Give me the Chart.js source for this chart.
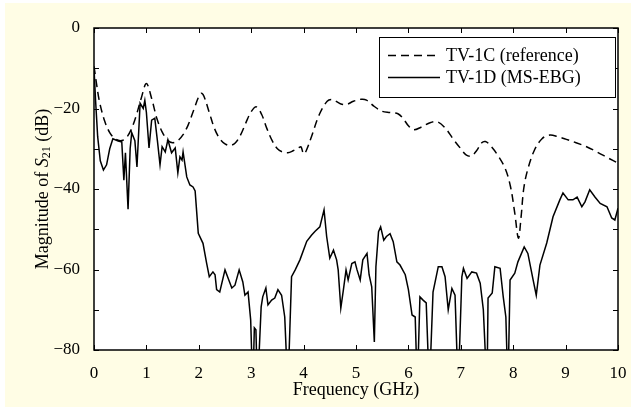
<!DOCTYPE html>
<html>
<head>
<meta charset="utf-8">
<script src="https://cdn.jsdelivr.net/npm/chart.js@4/dist/chart.umd.min.js"></script>
<style>
html,body{margin:0;padding:0;background:#fff;}
#wrap{width:635px;height:418px;}
</style>
</head>
<body>
<div id="wrap"><canvas id="c" width="635" height="418"></canvas></div>
<script>
// ---- data ----
const seriesNames = ['TV-1C (reference)', 'TV-1D (MS-EBG)'];
const xTickLabels = ['0','1','2','3','4','5','6','7','8','9','10'];
const yTickValues = [-80, -60, -40, -20, 0];
const yTickLabels = ['\u221280', '\u221260', '\u221240', '\u221220', '0'];

const refFreq = [0,0.05,0.1,0.2,0.3,0.4,0.5,0.6,0.7,0.8,0.9,1.0,1.1,1.2,1.3,1.4,1.5,1.6,1.7,1.8,1.9,2.0,2.05,2.1,2.2,2.3,2.4,2.5,2.6,2.7,2.8,2.9,3.0,3.1,3.2,3.3,3.4,3.5,3.6,3.7,3.8,3.9,3.95,4.0,4.05,4.15,4.3,4.45,4.55,4.7,4.82,4.95,5.1,5.2,5.35,5.5,5.65,5.8,5.9,6.0,6.1,6.25,6.4,6.55,6.7,6.85,7.0,7.1,7.2,7.3,7.4,7.47,7.55,7.7,7.85,7.95,8.03,8.1,8.15,8.2,8.27,8.4,8.55,8.7,8.85,9.0,9.2,9.4,9.6,9.8,10];
const refMag  = [-9.5,-14,-18,-23,-26,-27.5,-28,-27.5,-25.5,-22,-17.5,-13.8,-17.5,-22.5,-25.8,-27.8,-28.5,-28,-26.5,-24,-20.5,-17,-16.2,-17,-21,-25,-27.5,-28.8,-29.2,-28.5,-26.5,-23.5,-20.8,-19.6,-21.5,-25,-28,-30,-30.8,-31,-30.5,-29.8,-29.5,-31.3,-30.5,-27,-21.5,-18.2,-17.8,-18.8,-19,-18.2,-17.7,-17.9,-19.5,-20.7,-21,-21.3,-22.5,-24.3,-25.3,-24.6,-23.6,-23.3,-24.8,-27.5,-30,-31.5,-31.8,-30.5,-28.5,-28.2,-29,-31.5,-35,-39.5,-46,-52.2,-47,-40,-35.5,-30.5,-27.5,-26.6,-27,-27.6,-28.5,-29.5,-30.8,-32.2,-33.6];

const ebgFreq = [0,0.03,0.07,0.12,0.18,0.24,0.3,0.36,0.45,0.53,0.57,0.6,0.65,0.69,0.72,0.78,0.82,0.88,0.94,0.97,1.0,1.05,1.1,1.16,1.21,1.26,1.3,1.36,1.41,1.48,1.55,1.6,1.64,1.68,1.7,1.77,1.83,1.89,1.93,1.99,2.08,2.15,2.2,2.27,2.31,2.34,2.4,2.5,2.56,2.63,2.69,2.77,2.84,2.88,2.94,2.99,3.03,3.06,3.09,3.12,3.19,3.22,3.28,3.32,3.39,3.45,3.51,3.58,3.64,3.7,3.77,3.84,3.93,4.06,4.15,4.22,4.31,4.39,4.44,4.5,4.57,4.63,4.66,4.71,4.76,4.81,4.85,4.92,4.98,5.02,5.08,5.13,5.21,5.25,5.3,5.35,5.38,5.43,5.47,5.53,5.58,5.65,5.71,5.78,5.84,5.94,6.0,6.07,6.13,6.17,6.22,6.28,6.34,6.4,6.47,6.57,6.64,6.7,6.76,6.83,6.89,6.95,7.02,7.05,7.12,7.21,7.3,7.37,7.43,7.5,7.52,7.6,7.65,7.75,7.81,7.86,7.9,7.94,8.03,8.09,8.21,8.28,8.38,8.44,8.51,8.64,8.76,8.89,8.95,9.05,9.14,9.22,9.31,9.37,9.46,9.56,9.66,9.79,9.88,9.94,10];
const ebgMag  = [-10,-18,-27,-33,-35.3,-34,-30,-27.5,-28,-28.3,-37.8,-31,-45,-30,-26,-28,-34.5,-18.7,-20,-18,-21,-29.8,-22.9,-22.4,-28,-34,-29.5,-30.8,-27.8,-31,-29.8,-36,-32,-32.8,-30.8,-37,-39,-39.5,-40.5,-51,-53.5,-58.5,-61.8,-60.6,-61.3,-65,-65.6,-60.1,-62.2,-64.6,-63.9,-60.1,-63.1,-66.4,-65.6,-72.5,-90,-74.5,-75,-90,-69.3,-66.8,-64.6,-68.8,-67.6,-67.1,-65,-66.4,-71.8,-90,-61.8,-60.1,-57.6,-53,-51.5,-50.5,-49.4,-45.2,-51.8,-57.2,-55.2,-57.6,-60.1,-69.6,-65,-60.1,-62.6,-58.5,-58.1,-60.1,-62.6,-57.6,-56,-61.3,-64.3,-78,-59.3,-50.6,-49.4,-52.7,-51.8,-51.1,-53.1,-58.1,-58.9,-61.3,-65,-71.3,-71.8,-90,-66.8,-67.6,-68.3,-90,-65.6,-59.3,-59.3,-61.8,-70,-64.7,-66.4,-90,-61.8,-59.7,-62.2,-60.6,-60.9,-63.4,-70,-90,-67.1,-65.8,-59.3,-59.7,-66.8,-71.8,-90,-62.6,-60.9,-58.1,-54.4,-56,-62.6,-66.4,-58.9,-53.4,-46.9,-42.7,-41,-42.7,-42.7,-42,-44.4,-43.2,-40.2,-42,-43.6,-44.4,-47.2,-47.7,-44.8];

const SERIF = '"Liberation Serif", "DejaVu Serif", serif';

const decor = {
  id: 'decor',
  beforeDraw(chart) {
    const ctx = chart.ctx, a = chart.chartArea;
    ctx.save();
    ctx.fillStyle = '#ffffff';
    ctx.fillRect(0, 0, chart.width, chart.height);
    ctx.fillStyle = '#fffde5';
    ctx.fillRect(5, 3, 626, 404);
    ctx.fillStyle = '#ffffff';
    ctx.fillRect(a.left, a.top, a.right - a.left, a.bottom - a.top);
    ctx.restore();
  },
  afterDraw(chart) {
    const ctx = chart.ctx, a = chart.chartArea;
    const xs = chart.scales.x, ys = chart.scales.y;
    ctx.save();
    ctx.strokeStyle = '#000';
    ctx.lineWidth = 1.5;
    ctx.strokeRect(a.left, a.top, a.right - a.left, a.bottom - a.top);
    ctx.lineWidth = 1;
    const tl = 5;
    ctx.beginPath();
    xs.ticks.forEach(t => {
      const px = Math.round(xs.getPixelForValue(t.value)) + 0.5;
      ctx.moveTo(px, a.bottom); ctx.lineTo(px, a.bottom - tl);
      ctx.moveTo(px, a.top); ctx.lineTo(px, a.top + tl);
    });
    ys.ticks.forEach(t => {
      const py = Math.round(ys.getPixelForValue(t.value)) + 0.5;
      ctx.moveTo(a.left, py); ctx.lineTo(a.left + tl, py);
      ctx.moveTo(a.right, py); ctx.lineTo(a.right - tl, py);
    });
    ctx.stroke();

    // legend
    const bx = 379, by = 37, bw = 236, bh = 60;
    ctx.fillStyle = '#fff';
    ctx.fillRect(bx, by, bw, bh);
    ctx.lineWidth = 1;
    ctx.strokeRect(bx + 0.5, by + 0.5, bw, bh);
    const rows = [55, 77];
    chart.data.datasets.forEach((ds, i) => {
      ctx.beginPath();
      ctx.setLineDash(ds.borderDash || []);
      ctx.lineWidth = ds.borderWidth;
      ctx.strokeStyle = ds.borderColor;
      ctx.moveTo(388, rows[i] + 0.5);
      ctx.lineTo(440, rows[i] + 0.5);
      ctx.stroke();
      ctx.setLineDash([]);
      ctx.fillStyle = '#000';
      ctx.font = '18px ' + SERIF;
      ctx.textBaseline = 'middle';
      ctx.textAlign = 'left';
      ctx.fillText(ds.label, 446, rows[i] + 1);
    });

    // x title
    ctx.fillStyle = '#000';
    ctx.font = '18px ' + SERIF;
    ctx.textAlign = 'center';
    ctx.textBaseline = 'middle';
    ctx.fillText('Frequency (GHz)', (a.left + a.right) / 2, 390);

    // y title with italic S and subscript 21
    const parts = [
      {t: 'Magnitude of ', f: '18px ' + SERIF, dy: 0},
      {t: 'S', f: 'italic 18px ' + SERIF, dy: 0},
      {t: '21', f: '12px ' + SERIF, dy: 4},
      {t: ' (dB)', f: '18px ' + SERIF, dy: 0}
    ];
    let total = 0;
    parts.forEach(p => { ctx.font = p.f; p.w = ctx.measureText(p.t).width; total += p.w; });
    ctx.translate(43, (a.top + a.bottom) / 2);
    ctx.rotate(-Math.PI / 2);
    ctx.textAlign = 'left';
    ctx.textBaseline = 'middle';
    let x = -total / 2;
    parts.forEach(p => { ctx.font = p.f; ctx.fillText(p.t, x, p.dy); x += p.w; });
    ctx.restore();
  }
};

new Chart(document.getElementById('c'), {
  type: 'line',
  data: {
    datasets: [
      {
        label: seriesNames[0],
        data: refFreq.map((f, i) => ({x: f, y: refMag[i]})),
        borderColor: '#000', borderWidth: 1.5, borderDash: [8, 5],
        pointRadius: 0, tension: 0.35, fill: false
      },
      {
        label: seriesNames[1],
        data: ebgFreq.map((f, i) => ({x: f, y: ebgMag[i]})),
        borderColor: '#000', borderWidth: 1.5,
        pointRadius: 0, tension: 0, fill: false
      }
    ]
  },
  options: {
    responsive: false,
    animation: false,
    devicePixelRatio: 1,
    layout: {padding: {top: 28, right: 17, left: 0, bottom: 0}},
    plugins: {legend: {display: false}, tooltip: {enabled: false}},
    scales: {
      x: {
        type: 'linear', min: 0, max: 10,
        grid: {display: false}, border: {display: false},
        ticks: {
          stepSize: 1, padding: 5, color: '#000',
          font: {family: SERIF, size: 17},
          callback: (v) => xTickLabels[Math.round(v)] ?? ''
        },
        afterFit: (s) => { s.height = 68; }
      },
      y: {
        type: 'linear', min: -80, max: 0,
        grid: {display: false}, border: {display: false},
        ticks: {
          stepSize: 10, padding: 6, color: '#000',
          font: {family: SERIF, size: 17},
          callback: (v) => { const i = yTickValues.indexOf(v); return i >= 0 ? yTickLabels[i] : ''; }
        },
        afterFit: (s) => { s.width = 94; }
      }
    }
  },
  plugins: [decor]
});
</script>
</body>
</html>
